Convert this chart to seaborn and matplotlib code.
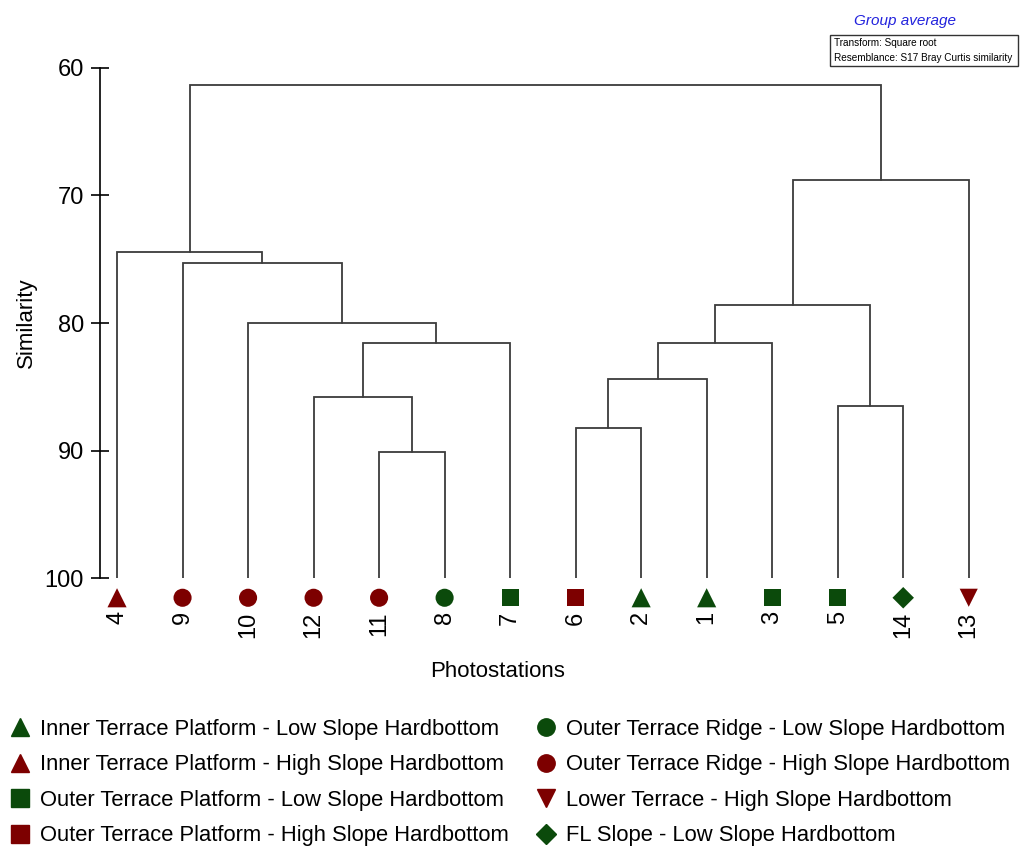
import pandas as pd
import seaborn as sns
import matplotlib.pyplot as plt
from matplotlib.lines import Line2D
from matplotlib.patches import Rectangle

## data ##
# leaf order along the x axis
stations = ["4", "9", "10", "12", "11", "8", "7", "6", "2", "1", "3", "5", "14", "13"]
station_group = ["ITP-H", "OTR-H", "OTR-H", "OTR-H", "OTR-H", "OTR-L", "OTP-L",
                 "OTP-H", "ITP-L", "ITP-L", "OTP-L", "OTP-L", "FLS-L", "LT-H"]

# merges: cluster c<i> is made from merge_a[i] and merge_b[i] at merge_sim[i]
merge_a = ["11", "12", "c1", "10", "9", "4", "6", "c6", "c7", "5", "c8", "c10", "c5"]
merge_b = ["8", "c0", "7", "c2", "c3", "c4", "2", "1", "3", "14", "c9", "13", "c11"]
merge_sim = [90.1, 85.8, 81.6, 80.0, 75.3, 74.4, 88.2, 84.4, 81.6, 86.5, 78.6, 68.8, 61.3]

group_codes = ["ITP-L", "ITP-H", "OTP-L", "OTP-H", "OTR-L", "OTR-H", "LT-H", "FLS-L"]
group_labels = ["Inner Terrace Platform - Low Slope Hardbottom",
                "Inner Terrace Platform - High Slope Hardbottom",
                "Outer Terrace Platform - Low Slope Hardbottom",
                "Outer Terrace Platform - High Slope Hardbottom",
                "Outer Terrace Ridge - Low Slope Hardbottom",
                "Outer Terrace Ridge - High Slope Hardbottom",
                "Lower Terrace - High Slope Hardbottom",
                "FL Slope - Low Slope Hardbottom"]

green = "#0b4a0b"
red = "#7d0000"
group_colors = {"ITP-L": green, "ITP-H": red, "OTP-L": green, "OTP-H": red,
                "OTR-L": green, "OTR-H": red, "LT-H": red, "FLS-L": green}
group_markers = {"ITP-L": "^", "ITP-H": "^", "OTP-L": "s", "OTP-H": "s",
                 "OTR-L": "o", "OTR-H": "o", "LT-H": "v", "FLS-L": "D"}
group_sizes = {"ITP-L": 190, "ITP-H": 190, "OTP-L": 150, "OTP-H": 150,
               "OTR-L": 170, "OTR-H": 170, "LT-H": 170, "FLS-L": 120}

## style ##
sns.set_style("white")
plt.rcParams["font.family"] = ["Liberation Sans", "DejaVu Sans"]
plt.rcParams["text.color"] = "black"
plt.rcParams["axes.labelcolor"] = "black"
plt.rcParams["xtick.color"] = "black"
plt.rcParams["ytick.color"] = "black"
line_col = "#3c3c3c"

fig = plt.figure(figsize=(10.21, 8.46), dpi=100)
ax = fig.add_axes([100 / 1021, 1 - 578 / 846, 910 / 1021, 510 / 846])

# node positions: leaves sit on similarity 100
pos = {s: (i, 100.0) for i, s in enumerate(stations)}
for i, (a, b, h) in enumerate(zip(merge_a, merge_b, merge_sim)):
    xa, ya = pos[a]
    xb, yb = pos[b]
    ax.plot([xa, xa, xb, xb], [ya, h, h, yb], color=line_col, lw=1.3,
            solid_joinstyle="miter")
    pos["c%d" % i] = ((xa + xb) / 2, h)

# leaf symbols just below the axis
df = pd.DataFrame({"pos": range(len(stations)), "station": stations,
                   "group": station_group, "y": 101.55})
sns.scatterplot(data=df, x="pos", y="y", hue="group", style="group",
                size="group", sizes=group_sizes,
                palette=group_colors, markers=group_markers,
                linewidth=0, legend=False, clip_on=False, ax=ax)

ax.set_ylim(100, 60)
ax.set_xlim(-0.26, 13.63)
ax.set_yticks([60, 70, 80, 90, 100])
ax.set_xticks(range(len(stations)))
ax.set_xticklabels(stations, rotation=90)
ax.tick_params(axis="x", length=0, pad=24, labelsize=17)
ax.tick_params(axis="y", direction="inout", length=13, width=1.2,
               color="black", pad=5, labelsize=17, left=True)
for side in ["top", "right", "bottom"]:
    ax.spines[side].set_visible(False)
ax.spines["left"].set_color("black")
ax.spines["left"].set_linewidth(1.2)

ax.set_ylabel("Similarity", fontsize=16)
ax.yaxis.set_label_coords(-0.069, 0.5)
ax.set_xlabel("Photostations", fontsize=16, va="top")
ax.xaxis.set_label_coords(0.437, -0.162)

# header text and box
fig.text(905 / 1021, 1 - 21 / 846, "Group average", color="#2222dd",
         style="italic", fontsize=11, ha="center", va="center")
fig.patches.append(Rectangle((830 / 1021, 1 - 66 / 846), 188 / 1021, 31 / 846,
                             transform=fig.transFigure, fill=False,
                             edgecolor="#333333", lw=1))
fig.text(834 / 1021, 1 - 43 / 846, "Transform: Square root", fontsize=7.2,
         va="center", ha="left")
fig.text(834 / 1021, 1 - 58 / 846, "Resemblance: S17 Bray Curtis similarity",
         fontsize=7.2, va="center", ha="left")

# legend
handles = [Line2D([], [], ls="none", marker=group_markers[g],
                  color=group_colors[g],
                  markersize=10 if group_markers[g] == "D" else 12.5)
           for g in group_codes]
fig.legend(handles, group_labels, ncol=2, loc="upper left",
           bbox_to_anchor=(11 / 1021, 1 - 719 / 846), frameon=False,
           fontsize=15.8, handlelength=0.8, handletextpad=0.5,
           columnspacing=1.32, labelspacing=0.66, borderpad=0,
           borderaxespad=0)

fig.savefig("out.png", dpi=100)
